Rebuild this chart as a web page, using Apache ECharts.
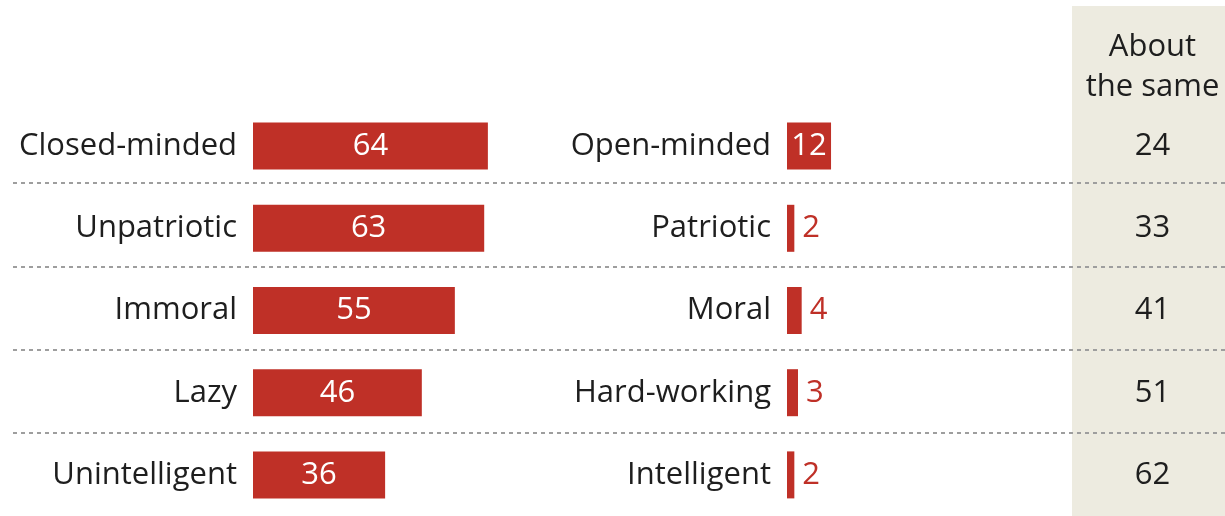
<!DOCTYPE html>
<html><head><meta charset="utf-8">
<script src="https://cdn.jsdelivr.net/npm/echarts@6/dist/echarts.min.js"></script>
<style>html,body{margin:0;padding:0;background:#fff}#c{width:1225px;height:516px}</style>
</head><body><div id="c"></div>
<script>
const negTraits = ['Closed-minded','Unpatriotic','Immoral','Lazy','Unintelligent'];
const negValues = [64,63,55,46,36];
const posTraits = ['Open-minded','Patriotic','Moral','Hard-working','Intelligent'];
const posValues = [12,2,4,3,2];
const sameHeader = 'About\nthe same';
const sameValues = [24,33,41,51,62];

const RED = '#bf3027';
const TXT = '#1e1e1e';
const FONT = 'Open Sans';
const FS = 31;
const PAD = [6,0,0,0];

const chart = echarts.init(document.getElementById('c'), null, {renderer:'canvas'});
const rowAxis = (gridIndex, data, showLabel) => ({
  type:'category', gridIndex, data, inverse:true,
  axisLine:{show:false}, axisTick:{show:false},
  axisLabel:{show:showLabel, color:TXT, fontFamily:FONT, fontSize:FS, margin:16, padding:PAD},
  splitLine:{show:false}
});
const valAxis = (gridIndex) => ({type:'value', gridIndex, min:0, max:100, show:false});

const option = {
  animation:false,
  backgroundColor:'#ffffff',
  graphic:[{type:'rect', z:-10, shape:{x:1072, y:6, width:153, height:510}, style:{fill:'#edebe0'}}],
  grid:[
    {left:253, top:105, width:367, height:415.5},
    {left:787, top:105, width:367, height:415.5},
    {left:13, right:0, top:100, height:419.5},
    {left:1080, right:0, top:105, height:415.5}
  ],
  xAxis:[
    valAxis(0), valAxis(1), valAxis(2),
    {type:'category', gridIndex:3, position:'top', data:[sameHeader],
     axisLine:{show:false}, axisTick:{show:false}, splitLine:{show:false},
     axisLabel:{color:TXT, fontFamily:FONT, fontSize:FS, lineHeight:40, margin:-2}}
  ],
  yAxis:[
    rowAxis(0, negTraits, true),
    rowAxis(1, posTraits, true),
    Object.assign(rowAxis(2, negTraits, false), {z:5, splitLine:{show:true, showMinLine:false, showMaxLine:false,
      lineStyle:{color:'#9e9e9e', width:2, type:[4,4]}}}),
    rowAxis(3, negTraits, false)
  ],
  series:[
    {type:'bar', xAxisIndex:0, yAxisIndex:0, data:negValues, barWidth:47,
     itemStyle:{color:RED},
     label:{show:true, position:'inside', color:'#fff', fontFamily:FONT, fontSize:FS, padding:PAD}},
    {type:'bar', xAxisIndex:1, yAxisIndex:1, barWidth:47,
     data:posValues.map(v => ({value:v, label: v >= 10
       ? {position:'inside', color:'#fff'}
       : {position:'right', color:RED, distance:8}})),
     itemStyle:{color:RED},
     label:{show:true, fontFamily:FONT, fontSize:FS, padding:PAD}},
    {type:'scatter', xAxisIndex:3, yAxisIndex:3, symbolSize:2,
     itemStyle:{color:'#edebe0', opacity:1},
     data:sameValues.map((v,i) => [sameHeader, negTraits[i], v]),
     label:{show:true, position:'inside', color:TXT, fontFamily:FONT, fontSize:FS, padding:PAD,
            formatter:p => String(p.value[2])}}
  ]
};
chart.setOption(option);
</script></body></html>
